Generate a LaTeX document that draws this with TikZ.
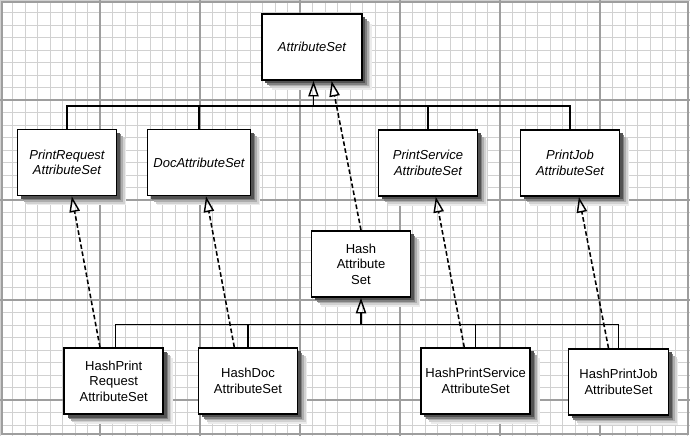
\documentclass[tikz,border=0pt]{standalone}
\usepackage{fontspec}
\setmainfont{Liberation Sans}
\usetikzlibrary{arrows.meta}

\begin{document}
\begin{tikzpicture}[x=2.7cm,y=2.7cm,
    minorline/.style={draw=black!18,line width=.7pt},
    majorline/.style={draw=black!38,line width=.9pt},
    shade at/.style 2 args={preaction={fill=black!#2,transform canvas={xshift=#1,yshift=-#1}}},
    box/.style={draw,fill=white,line width=1.4pt,align=center,
      minimum width=2.67cm,minimum height=1.78cm,font=\fontsize{10}{12}\selectfont,
      shade at={7.5pt}{8},shade at={6.2pt}{18},shade at={5pt}{32},
      shade at={3.8pt}{50},shade at={2.6pt}{68}},
    iface/.style={box,font=\fontsize{10}{12}\selectfont\itshape},
    link/.style={line width=1pt},
    inherit/.style={link,-{Triangle[open,length=12pt,width=8pt,line width=1.1pt]}},
    realize/.style={inherit,line width=1.2pt,dash pattern=on 3.5pt off 2pt}]
  \useasboundingbox (0,0) rectangle (6.9,4.36);
  % background grid
  \foreach \i in {0,...,55} \draw[minorline] (\i*0.125,0) -- (\i*0.125,4.36);
  \foreach \j in {0,...,34} \draw[minorline] (0,4.36-\j*0.125) -- (6.9,4.36-\j*0.125);
  \foreach \i in {1,...,6} \draw[majorline] (\i,0) -- (\i,4.36);
  \foreach \j in {1,...,4} \draw[majorline] (0,4.36-\j) -- (6.9,4.36-\j);
  \draw[majorline] (0.02,0.02) rectangle (6.88,4.34);
  % interfaces
  \node[iface,minimum width=2.7cm]  (AS)  at (3.12,3.89)  {AttributeSet};
  \node[iface]                      (PR)  at (0.67,2.735) {PrintRequest\\AttributeSet};
  \node[iface,minimum width=2.78cm] (DAS) at (1.99,2.735) {DocAttributeSet};
  \node[iface]                      (PS)  at (4.28,2.73)  {PrintService\\AttributeSet};
  \node[iface]                      (PJ)  at (5.70,2.73)  {PrintJob\\AttributeSet};
  % classes
  \node[box]                        (HAS) at (3.61,1.72)  {Hash\\Attribute\\Set};
  \node[box]                        (HPR) at (1.137,0.547) {HashPrint\\Request\\AttributeSet};
  \node[box]                        (HD)  at (2.48,0.55)  {HashDoc\\AttributeSet};
  \node[box,minimum width=2.78cm]   (HPS) at (4.757,0.55) {HashPrintService\\AttributeSet};
  \node[box,minimum width=2.7cm]    (HPJ) at (6.185,0.54) {HashPrintJob\\AttributeSet};
  \coordinate (topbus) at (0,3.30);
  \coordinate (lowbus) at (0,1.113);
  % extends AttributeSet
  \draw[link] (PR.north) |- (PJ.north |- topbus) -- (PJ.north);
  \draw[link] (DAS.north) -- (DAS.north |- topbus);
  \draw[link] (PS.north) -- (PS.north |- topbus);
  \draw[inherit] ([xshift=0.04cm]AS.south |- topbus) -- ([xshift=0.04cm]AS.south);
  % extends HashAttributeSet
  \draw[link] ([xshift=0.05cm]HPR.north) |- (HPJ.north |- lowbus) -- (HPJ.north);
  \draw[link] (HD.north) -- (HD.north |- lowbus);
  \draw[link] (HPS.north) -- (HPS.north |- lowbus);
  \draw[inherit] (HAS.south |- lowbus) -- (HAS.south);
  % implements
  \draw[realize] (HAS.north) -- ([xshift=0.53cm]AS.south);
  \draw[realize] ([xshift=-0.37cm]HPR.north) -- ([xshift=0.13cm]PR.south);
  \draw[realize] ([xshift=-0.37cm]HD.north) -- ([xshift=0.19cm]DAS.south);
  \draw[realize] ([xshift=-0.31cm]HPS.north) -- ([xshift=0.21cm]PS.south);
  \draw[realize] ([xshift=-0.27cm]HPJ.north) -- ([xshift=0.24cm]PJ.south);
\end{tikzpicture}
\end{document}
